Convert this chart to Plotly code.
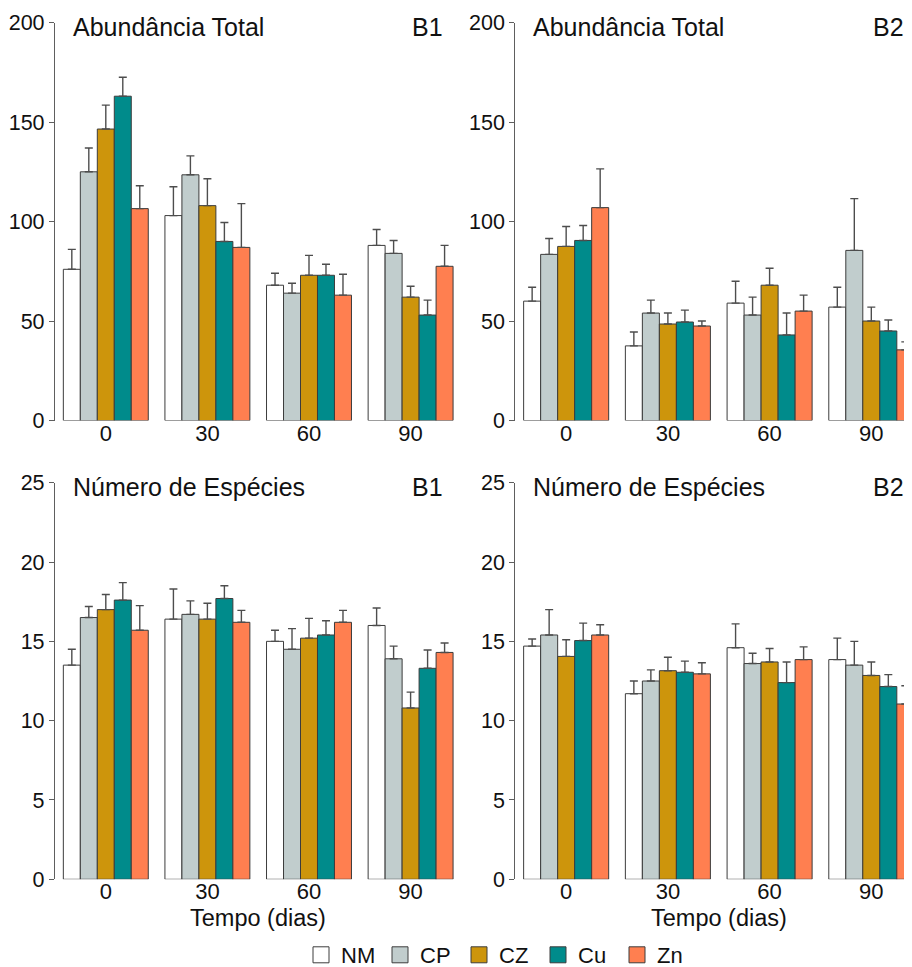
import plotly.graph_objects as go

# ---------------- data ----------------
categories = ["0", "30", "60", "90"]
series = ["NM", "CP", "CZ", "Cu", "Zn"]
colors = ["#FFFFFF", "#C1CDCD", "#CD950C", "#008B8B", "#FF7F50"]

# Abundância Total, B1 (rows = series NM, CP, CZ, Cu, Zn; cols = 0, 30, 60, 90 dias)
abund_b1_mean = [
    [76, 103, 68, 88],
    [125, 123.5, 64, 84],
    [146.5, 108, 73, 62],
    [163, 90, 73, 53],
    [106.5, 87, 63, 77.5],
]
abund_b1_err = [
    [10, 14.5, 6, 8],
    [12, 9.5, 5, 6.5],
    [12, 13.5, 10, 5.5],
    [9.5, 9.5, 5.5, 7.5],
    [11.5, 22, 10.5, 10.5],
]

# Abundância Total, B2
abund_b2_mean = [
    [60, 37.5, 59, 57],
    [83.5, 54, 53, 85.5],
    [87.5, 48.5, 68, 50],
    [90.5, 49.5, 43, 45],
    [107, 47.5, 55, 35.5],
]
abund_b2_err = [
    [7, 7, 11, 10],
    [8, 6.5, 9, 26],
    [10, 5.5, 8.5, 7],
    [7.5, 6, 11, 5.5],
    [19.5, 2.5, 8, 4],
]

# Número de Espécies, B1
spec_b1_mean = [
    [13.5, 16.4, 15.0, 16.0],
    [16.5, 16.7, 14.5, 13.9],
    [17.0, 16.4, 15.2, 10.8],
    [17.6, 17.7, 15.4, 13.3],
    [15.7, 16.2, 16.2, 14.3],
]
spec_b1_err = [
    [1.0, 1.9, 0.7, 1.1],
    [0.7, 0.85, 1.3, 0.8],
    [0.95, 1.0, 1.25, 1.0],
    [1.1, 0.8, 0.9, 1.15],
    [1.55, 0.75, 0.75, 0.6],
]

# Número de Espécies, B2
spec_b2_mean = [
    [14.7, 11.7, 14.6, 13.85],
    [15.4, 12.5, 13.6, 13.5],
    [14.05, 13.15, 13.7, 12.85],
    [15.05, 13.05, 12.4, 12.15],
    [15.4, 12.95, 13.85, 11.05],
]
spec_b2_err = [
    [0.45, 0.8, 1.5, 1.35],
    [1.6, 0.7, 0.65, 1.5],
    [1.05, 0.85, 0.85, 0.85],
    [1.1, 0.7, 1.3, 0.75],
    [0.65, 0.7, 0.8, 1.15],
]

abund_ticks = [0, 50, 100, 150, 200]
spec_ticks = [0, 5, 10, 15, 20, 25]

panel_titles = ["Abundância Total", "Abundância Total", "Número de Espécies", "Número de Espécies"]
panel_tags = ["B1", "B2", "B1", "B2"]
x_title = "Tempo (dias)"

# ---------------- figure ----------------
FONT = "Liberation Sans, Arial, sans-serif"
TXT = "#111111"
AXC = "#5E5E5E"
BAR_LINE = "#3C3C3C"
ERR_C = "#4D4D4D"

# the page body has an 8px margin: figure is drawn at (8, 8) inside the 912x967 window
OFF = 8
W, H = 912 - OFF, 967 - OFF

def px_x(p):
    return (p - OFF) / W

def px_y(p):
    return 1 - (p - OFF) / H

panels = [
    (abund_b1_mean, abund_b1_err, "x", "y"),
    (abund_b2_mean, abund_b2_err, "x2", "y2"),
    (spec_b1_mean, spec_b1_err, "x3", "y3"),
    (spec_b2_mean, spec_b2_err, "x4", "y4"),
]

fig = go.Figure()
for means, errs, xa, ya in panels:
    for s, name in enumerate(series):
        fig.add_trace(go.Bar(
            x=categories, y=means[s], name=name, xaxis=xa, yaxis=ya,
            marker=dict(color=colors[s], line=dict(color=BAR_LINE, width=1)),
            error_y=dict(type="data", symmetric=False, array=errs[s],
                         arrayminus=[0] * len(categories),
                         color=ERR_C, thickness=1.4, width=4),
            offsetgroup=name, showlegend=False,
        ))

# legend proxies
for s, name in enumerate(series):
    fig.add_trace(go.Scatter(
        x=[None], y=[None], mode="markers", name=name, xaxis="x", yaxis="y",
        marker=dict(symbol="square", size=16, color=colors[s],
                    line=dict(color=BAR_LINE, width=1)),
        showlegend=True,
    ))

xl = [px_x(55), px_x(461.4)]
xr = [px_x(515.3), 1.0]
yt = [px_y(420.5), px_y(22.6)]
yb = [px_y(879.3), px_y(482.7)]

def xaxis(domain, rng, anchor):
    return dict(domain=domain, range=rng, type="category", categoryorder="array",
                categoryarray=categories, showline=False, showgrid=False, zeroline=False,
                ticks="", ticklabelstandoff=-3,
                tickfont=dict(family=FONT, size=22, color=TXT), anchor=anchor,
                automargin=False, fixedrange=True)

def yaxis(domain, rng, ticks, anchor):
    return dict(domain=domain, range=rng, tickvals=ticks, showline=True, linecolor=AXC,
                linewidth=1.3, ticks="outside", ticklen=5, tickwidth=1.3, tickcolor=AXC,
                showgrid=False, zeroline=False, anchor=anchor, automargin=False,
                tickfont=dict(family=FONT, size=21.5, color=TXT), fixedrange=True)

fig.update_layout(
    width=W, height=H,
    margin=dict(l=0, r=0, t=0, b=0, autoexpand=False),
    paper_bgcolor="white", plot_bgcolor="white",
    barmode="group", bargap=0.164, bargroupgap=0,
    font=dict(family=FONT, color=TXT),
    xaxis=xaxis(xl, [-0.5, 3.5], "y"),
    xaxis2=xaxis(xr, [-0.5, 3.40], "y2"),
    xaxis3=xaxis(xl, [-0.5, 3.5], "y3"),
    xaxis4=xaxis(xr, [-0.5, 3.40], "y4"),
    yaxis=yaxis(yt, [0, 200], abund_ticks, "x"),
    yaxis2=yaxis(yt, [0, 200], abund_ticks, "x2"),
    yaxis3=yaxis(yb, [0, 25], spec_ticks, "x3"),
    yaxis4=yaxis(yb, [0, 25], spec_ticks, "x4"),
    legend=dict(orientation="h", x=px_x(301), xanchor="left", y=px_y(955), yanchor="middle",
                font=dict(family=FONT, size=22, color=TXT), itemwidth=30,
                entrywidth=34, bgcolor="rgba(0,0,0,0)"),
    showlegend=True,
)

axes_ids = [("x", "y"), ("x2", "y2"), ("x3", "y3"), ("x4", "y4")]
for (xa, ya), title, tag in zip(axes_ids, panel_titles, panel_tags):
    fig.add_annotation(text=title, xref=xa, yref=ya + " domain", x=-0.345, y=1,
                       xanchor="left", yanchor="middle", yshift=-4.5, showarrow=False,
                       font=dict(family=FONT, size=25, color=TXT))
    fig.add_annotation(text=tag, xref=xa, yref=ya + " domain", x=3.167, y=1,
                       xanchor="center", yanchor="middle", yshift=-4.5, showarrow=False,
                       font=dict(family=FONT, size=25, color=TXT))

# x-axis titles under the bottom panels, centred on the category span
for xa, ya in [("x3", "y3"), ("x4", "y4")]:
    fig.add_annotation(text=x_title, xref=xa, yref=ya + " domain", x=1.5, y=0,
                       xanchor="center", yanchor="middle", yshift=-39, showarrow=False,
                       font=dict(family=FONT, size=23.5, color=TXT))

fig.write_html("out.html")
